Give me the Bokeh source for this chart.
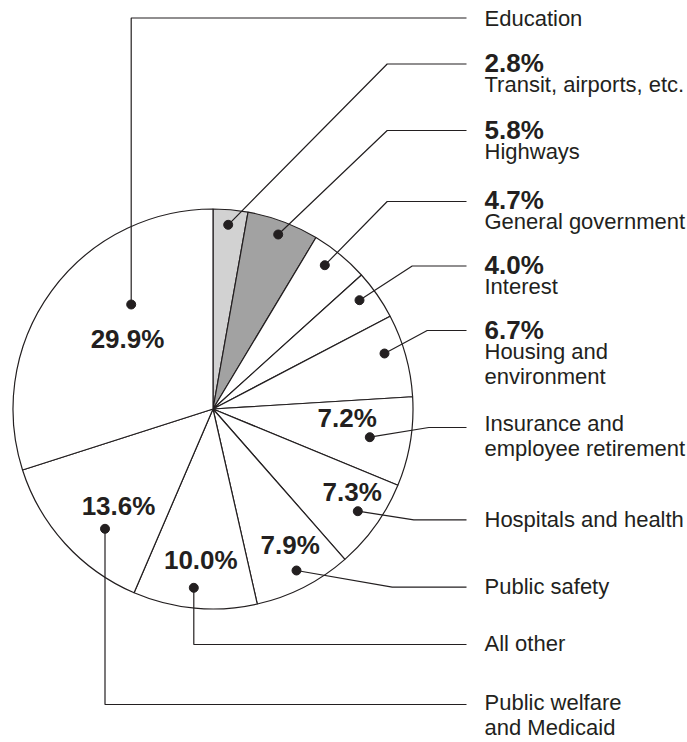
import math
from bokeh.plotting import figure
from bokeh.models import Range1d
from bokeh.embed import file_html
from bokeh.resources import INLINE
from bokeh.core.properties import value

# ---------------- data ----------------
categories = ["Transit, airports, etc.", "Highways", "General government", "Interest",
              "Housing and environment", "Insurance and employee retirement",
              "Hospitals and health", "Public safety", "All other",
              "Public welfare and Medicaid", "Education"]
shares = [2.8, 5.8, 4.7, 4.0, 6.7, 7.2, 7.3, 7.9, 10.0, 13.6, 29.9]
label_lines = [["Transit, airports, etc."], ["Highways"], ["General government"], ["Interest"],
               ["Housing and", "environment"], ["Insurance and", "employee retirement"],
               ["Hospitals and health"], ["Public safety"], ["All other"],
               ["Public welfare", "and Medicaid"], ["Education"]]
pct_outside = [True, True, True, True, True, False, False, False, False, False, False]

# ---------------- styles / layout ----------------
fills = ["#d2d2d2", "#a2a2a2"] + ["#ffffff"] * 9
INK = "#231f20"
FONT = value("Liberation Sans")
W, H = 687, 742
def X(x): return x
def Y(y): return H - y

BOLD_OUT, REG, BOLD_IN = 26, 22, 26
K = 0.38   # renderer baseline correction (fraction of font size)

CX, CY, R = 212.5, 408.5, 200
# leader layout: anchor dot, knee, first baseline (page pixels)
anchors = [(227.7, 224.3), (277.7, 234), (324.3, 264.7), (359, 299.7), (384, 353),
           (369.3, 436.7), (357.3, 510.7), (296, 570), (193.3, 587.3), (104.5, 528.3),
           (130.7, 304)]
knees = [(386.7, 63.5), (386.7, 130), (386.7, 201), (411.7, 265.5), (426.7, 330),
         (428.3, 427), (413.3, 519.3), (391.7, 586.7), (193.3, 644), (104.5, 704),
         (130.7, 17.5)]
first_base = [72, 139, 209.5, 274, 339, 431.5, 527.5, 594.5, 651.5, 710.7, 26.5]
inside_pos = {5: (346.7, 427.3), 6: (351.7, 501.7), 7: (289.7, 554), 8: (200.3, 569.3),
              9: (118, 515), 10: (127, 348.3)}
LINE_END, TEXT_X = 466, 484

p = figure(width=W, height=H, x_range=Range1d(0, W), y_range=Range1d(0, H),
           output_backend="svg", toolbar_location=None, min_border=0)
p.axis.visible = False
p.grid.visible = False
p.outline_line_color = None
p.background_fill_color = "white"
p.border_fill_color = "white"

total = sum(shares)
starts, ends = [], []
c = 0.0
for v in shares:
    starts.append(math.pi / 2 - 2 * math.pi * c / total)
    c += v
    ends.append(math.pi / 2 - 2 * math.pi * c / total)

p.wedge(x=[X(CX)] * len(shares), y=[Y(CY)] * len(shares), radius=R,
        start_angle=starts, end_angle=ends, direction="clock",
        fill_color=fills, line_color=INK, line_width=1.2)

# leaders
xs, ys = [], []
for (ax, ay), (kx, ky) in zip(anchors, knees):
    xs.append([X(ax), X(kx), X(LINE_END)])
    ys.append([Y(ay), Y(ky), Y(ky)])
p.multi_line(xs=xs, ys=ys, line_color=INK, line_width=1.2)
p.scatter(x=[X(a[0]) for a in anchors], y=[Y(a[1]) for a in anchors],
          size=9, fill_color=INK, line_color=INK)

# outside labels
bx, by, bt = [], [], []
rx, ry, rt = [], [], []
for i, lines in enumerate(label_lines):
    base = first_base[i]
    if pct_outside[i]:
        bx.append(X(TEXT_X)); by.append(Y(base - K * BOLD_OUT)); bt.append(f"{shares[i]:.1f}%")
        base += 20
    for j, ln in enumerate(lines):
        rx.append(X(TEXT_X)); ry.append(Y(base + 25 * j - K * REG)); rt.append(ln)
p.text(x=bx, y=by, text=bt, text_font=FONT, text_font_size=value(f"{BOLD_OUT}px"),
       text_font_style="bold", text_color=INK, text_baseline="alphabetic", text_align="left")
p.text(x=rx, y=ry, text=rt, text_font=FONT, text_font_size=value(f"{REG}px"),
       text_color=INK, text_baseline="alphabetic", text_align="left")

# inside labels
ix, iy, it = [], [], []
for i, (px_, py_) in inside_pos.items():
    ix.append(X(px_)); iy.append(Y(py_ - K * BOLD_IN)); it.append(f"{shares[i]:.1f}%")
p.text(x=ix, y=iy, text=it, text_font=FONT, text_font_size=value(f"{BOLD_IN}px"),
       text_font_style="bold", text_color=INK, text_baseline="alphabetic", text_align="center")

open("out.html", "w").write(file_html(p, INLINE))
